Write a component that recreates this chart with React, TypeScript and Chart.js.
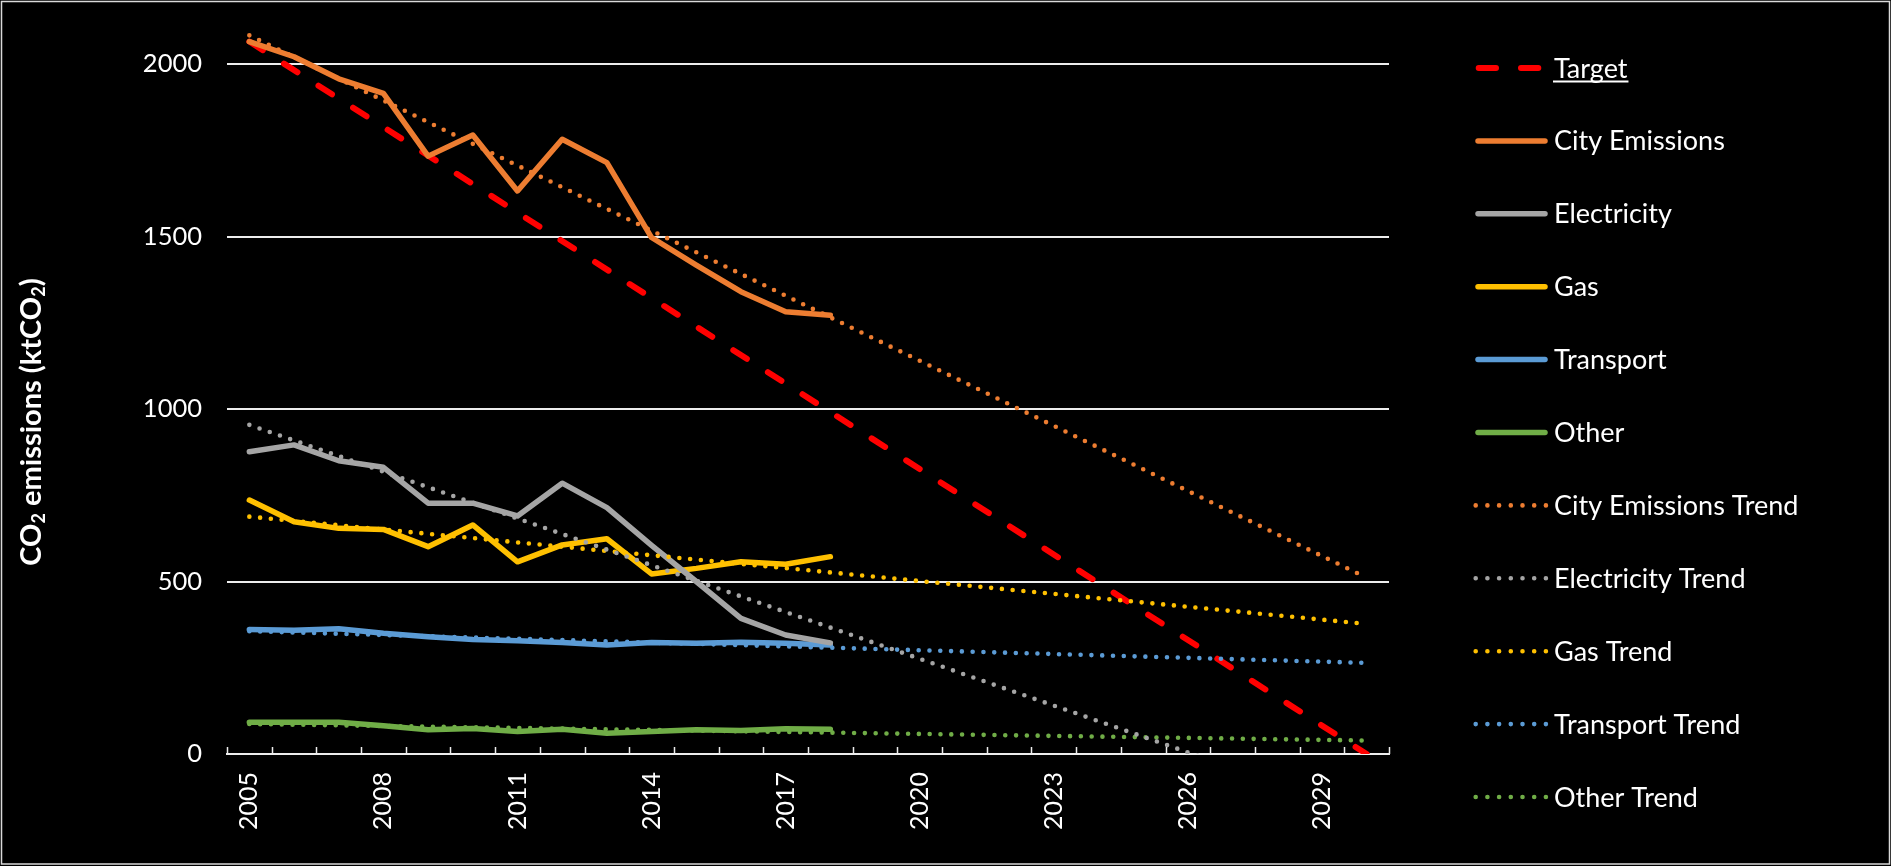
import React, { useEffect, useRef } from "react";
import { Chart, registerables } from "chart.js";

Chart.register(...registerables);

// ---- data ----
const years = [
  "2005", "2006", "2007", "2008", "2009", "2010", "2011", "2012", "2013",
  "2014", "2015", "2016", "2017", "2018", "2019", "2020", "2021", "2022",
  "2023", "2024", "2025", "2026", "2027", "2028", "2029", "2030",
];
const cityEmissions = [2065, 2021, 1957, 1915, 1733, 1794, 1632, 1782, 1714, 1497, 1417, 1340, 1282, 1272];
const electricity = [876, 896, 850, 831, 727, 727, 690, 785, 714, 605, 500, 393, 345, 322];
const gas = [736, 673, 654, 651, 601, 664, 557, 606, 624, 522, 538, 557, 550, 572];
const transport = [361, 359, 363, 350, 340, 332, 328, 323, 316, 323, 321, 324, 321, 316];
const other = [92, 92, 92, 82, 70, 74, 65, 72, 60, 65, 70, 68, 73, 72];
// straight lines: value at 2005 and at 2030
const targetEnds = [2065, 0];
const cityTrendEnds = [2083, 511];
const electricityTrendEnds = [954, -176];
const gasTrendEnds = [688, 377];
const transportTrendEnds = [356, 264];
const otherTrendEnds = [87, 39];
const yTickValues = [0, 500, 1000, 1500, 2000];
const yMax = 2100;

const ORANGE = "#ED7D31";
const GREY = "#A5A5A5";
const GOLD = "#FFC000";
const BLUE = "#5B9BD5";
const GREEN = "#70AD47";
const RED = "#FF0000";
const TEXT = "#FFFFFF";
const GRID = "#EDEDED";
const FONT = "Lato";

function endsToSeries(ends: number[]) {
  return years.map((_, i) => (i === 0 ? ends[0] : i === years.length - 1 ? ends[1] : null));
}

function solid(label: string, data: number[], color: string) {
  return {
    label,
    data,
    borderColor: color,
    backgroundColor: color,
    borderWidth: 5.5,
    pointRadius: 0,
    borderJoinStyle: "round" as const,
    borderCapStyle: "round" as const,
    tension: 0,
    order: 2,
  };
}

function dotted(label: string, ends: number[], color: string) {
  return {
    label,
    data: endsToSeries(ends),
    borderColor: color,
    backgroundColor: color,
    borderWidth: 4.6,
    borderDash: [0, 10.8],
    borderCapStyle: "round" as const,
    pointRadius: 0,
    spanGaps: true,
    order: 1,
    legendKind: "dot",
  };
}

const decorPlugin = {
  id: "decor",
  beforeDraw(chart: any) {
    const ctx = chart.ctx;
    ctx.save();
    ctx.fillStyle = "#000";
    ctx.fillRect(0, 0, chart.width, chart.height);
    ctx.restore();
  },
  afterDraw(chart: any) {
    const ctx = chart.ctx;
    const area = chart.chartArea;
    const xs = chart.scales.x;
    ctx.save();
    // outer frame
    ctx.strokeStyle = "#D9D9D9";
    ctx.lineWidth = 1.5;
    ctx.strokeRect(1.5, 1.5, chart.width - 3, chart.height - 3.5);

    // inside tick marks on category boundaries
    const step = xs.getPixelForValue(1) - xs.getPixelForValue(0);
    const start = xs.getPixelForValue(0) - step / 2;
    ctx.strokeStyle = GRID;
    ctx.lineWidth = 1.5;
    for (let i = 0; i <= years.length; i++) {
      const x = Math.round(start + i * step) + 0.5;
      ctx.beginPath();
      ctx.moveTo(x, area.bottom);
      ctx.lineTo(x, area.bottom - 7);
      ctx.stroke();
    }

    // y axis title with subscripts
    const parts: [string, boolean][] = [
      ["CO", false], ["2", true], [" emissions (ktCO", false], ["2", true], [")", false],
    ];
    const big = `bold 29px ${FONT}`;
    const small = `bold 18px ${FONT}`;
    let total = 0;
    for (const [t, sub] of parts) {
      ctx.font = sub ? small : big;
      total += ctx.measureText(t).width;
    }
    ctx.translate(31, 422);
    ctx.rotate(-Math.PI / 2);
    ctx.fillStyle = TEXT;
    ctx.textBaseline = "alphabetic";
    ctx.textAlign = "left";
    let cx = -total / 2;
    for (const [t, sub] of parts) {
      ctx.font = sub ? small : big;
      ctx.fillText(t, cx, sub ? 14 : 10);
      cx += ctx.measureText(t).width;
    }
    ctx.setTransform(1, 0, 0, 1, 0, 0);

    // legend
    const ds = chart.data.datasets;
    ctx.font = `27px ${FONT}`;
    ds.forEach((d: any, row: number) => {
      const y = 68 + row * 72.9;
      ctx.save();
      ctx.strokeStyle = d.borderColor;
      ctx.lineWidth = d.borderWidth;
      ctx.lineCap = d.borderCapStyle || "butt";
      ctx.beginPath();
      if (d.legendKind === "dash") {
        ctx.setLineDash([17.3, 25]);
        ctx.moveTo(1478.7, y);
        ctx.lineTo(1538.5, y);
      } else if (d.legendKind === "dot") {
        ctx.setLineDash([0, 11.7]);
        ctx.moveTo(1475.7, y);
        ctx.lineTo(1546.5, y);
      } else {
        ctx.setLineDash([]);
        ctx.moveTo(1478, y);
        ctx.lineTo(1545, y);
      }
      ctx.stroke();
      ctx.restore();
      ctx.fillStyle = TEXT;
      ctx.textAlign = "left";
      ctx.textBaseline = "alphabetic";
      const by = y + 9.5;
      ctx.fillText(d.label, 1554, by);
      if (d.legendKind === "dash") {
        const w = ctx.measureText(d.label).width;
        ctx.strokeStyle = TEXT;
        ctx.lineWidth = 2;
        ctx.beginPath();
        ctx.moveTo(1553, by + 4);
        ctx.lineTo(1554 + w + 1, by + 4);
        ctx.stroke();
      }
    });
    ctx.restore();
  },
};

export default function App() {
  const ref = useRef<HTMLCanvasElement>(null);
  useEffect(() => {
    document.body.style.margin = "0";
    document.body.style.background = "#000";
    document.body.style.overflow = "hidden";
    let chart: Chart | null = null;
    let cancelled = false;
    const make = () => {
      if (cancelled || !ref.current) return;
      const target = {
        label: "Target",
        data: endsToSeries(targetEnds),
        borderColor: RED,
        backgroundColor: RED,
        borderWidth: 6,
        borderDash: [16, 25],
        borderCapStyle: "round" as const,
        pointRadius: 0,
        spanGaps: true,
        order: 3,
        legendKind: "dash",
      };
      const datasets: any[] = [
        target,
        solid("City Emissions", cityEmissions, ORANGE),
        solid("Electricity", electricity, GREY),
        solid("Gas", gas, GOLD),
        solid("Transport", transport, BLUE),
        solid("Other", other, GREEN),
        dotted("City Emissions Trend", cityTrendEnds, ORANGE),
        dotted("Electricity Trend", electricityTrendEnds, GREY),
        dotted("Gas Trend", gasTrendEnds, GOLD),
        dotted("Transport Trend", transportTrendEnds, BLUE),
        dotted("Other Trend", otherTrendEnds, GREEN),
      ];
      chart = new Chart(ref.current, {
        type: "line",
        data: { labels: years, datasets },
        plugins: [decorPlugin],
        options: {
          responsive: false,
          animation: false,
          devicePixelRatio: 1,
          layout: { padding: { left: 0, top: 29.5, right: 502, bottom: 0 } },
          plugins: { legend: { display: false }, tooltip: { enabled: false } },
          scales: {
            x: {
              type: "category",
              offset: true,
              grid: { display: true, drawOnChartArea: false, drawTicks: false, offset: true },
              border: { display: true, color: GRID, width: 2 },
              ticks: {
                autoSkip: false,
                minRotation: 90,
                maxRotation: 90,
                padding: 18,
                color: TEXT,
                font: { family: FONT, size: 25 },
                callback: (_v: any, i: number) => (i % 3 === 0 ? years[i] : ""),
              },
              afterFit: (s: any) => {
                s.height = 112;
                s.paddingLeft = 0;
                s.paddingRight = 0;
              },
            },
            y: {
              min: 0,
              max: yMax,
              grid: { color: GRID, lineWidth: 2, drawTicks: false },
              border: { display: false },
              ticks: {
                stepSize: 500,
                padding: 25,
                color: TEXT,
                font: { family: FONT, size: 25.5 },
                callback: (v: any) => String(v),
              },
              afterBuildTicks: (s: any) => {
                s.ticks = yTickValues.map((v) => ({ value: v }));
              },
              afterFit: (s: any) => {
                s.width = 227;
                s.paddingTop = 0;
                s.paddingBottom = 0;
              },
            },
          },
        },
      } as any);
    };
    const fonts: any = (document as any).fonts;
    if (fonts && fonts.load) {
      Promise.all([fonts.load(`24px ${FONT}`), fonts.load(`bold 25px ${FONT}`)])
        .catch(() => null)
        .then(make);
    } else {
      make();
    }
    return () => {
      cancelled = true;
      if (chart) chart.destroy();
    };
  }, []);
  return (
    <canvas
      ref={ref}
      width={1891}
      height={866}
      style={{ display: "block", width: 1891, height: 866 }}
    />
  );
}
